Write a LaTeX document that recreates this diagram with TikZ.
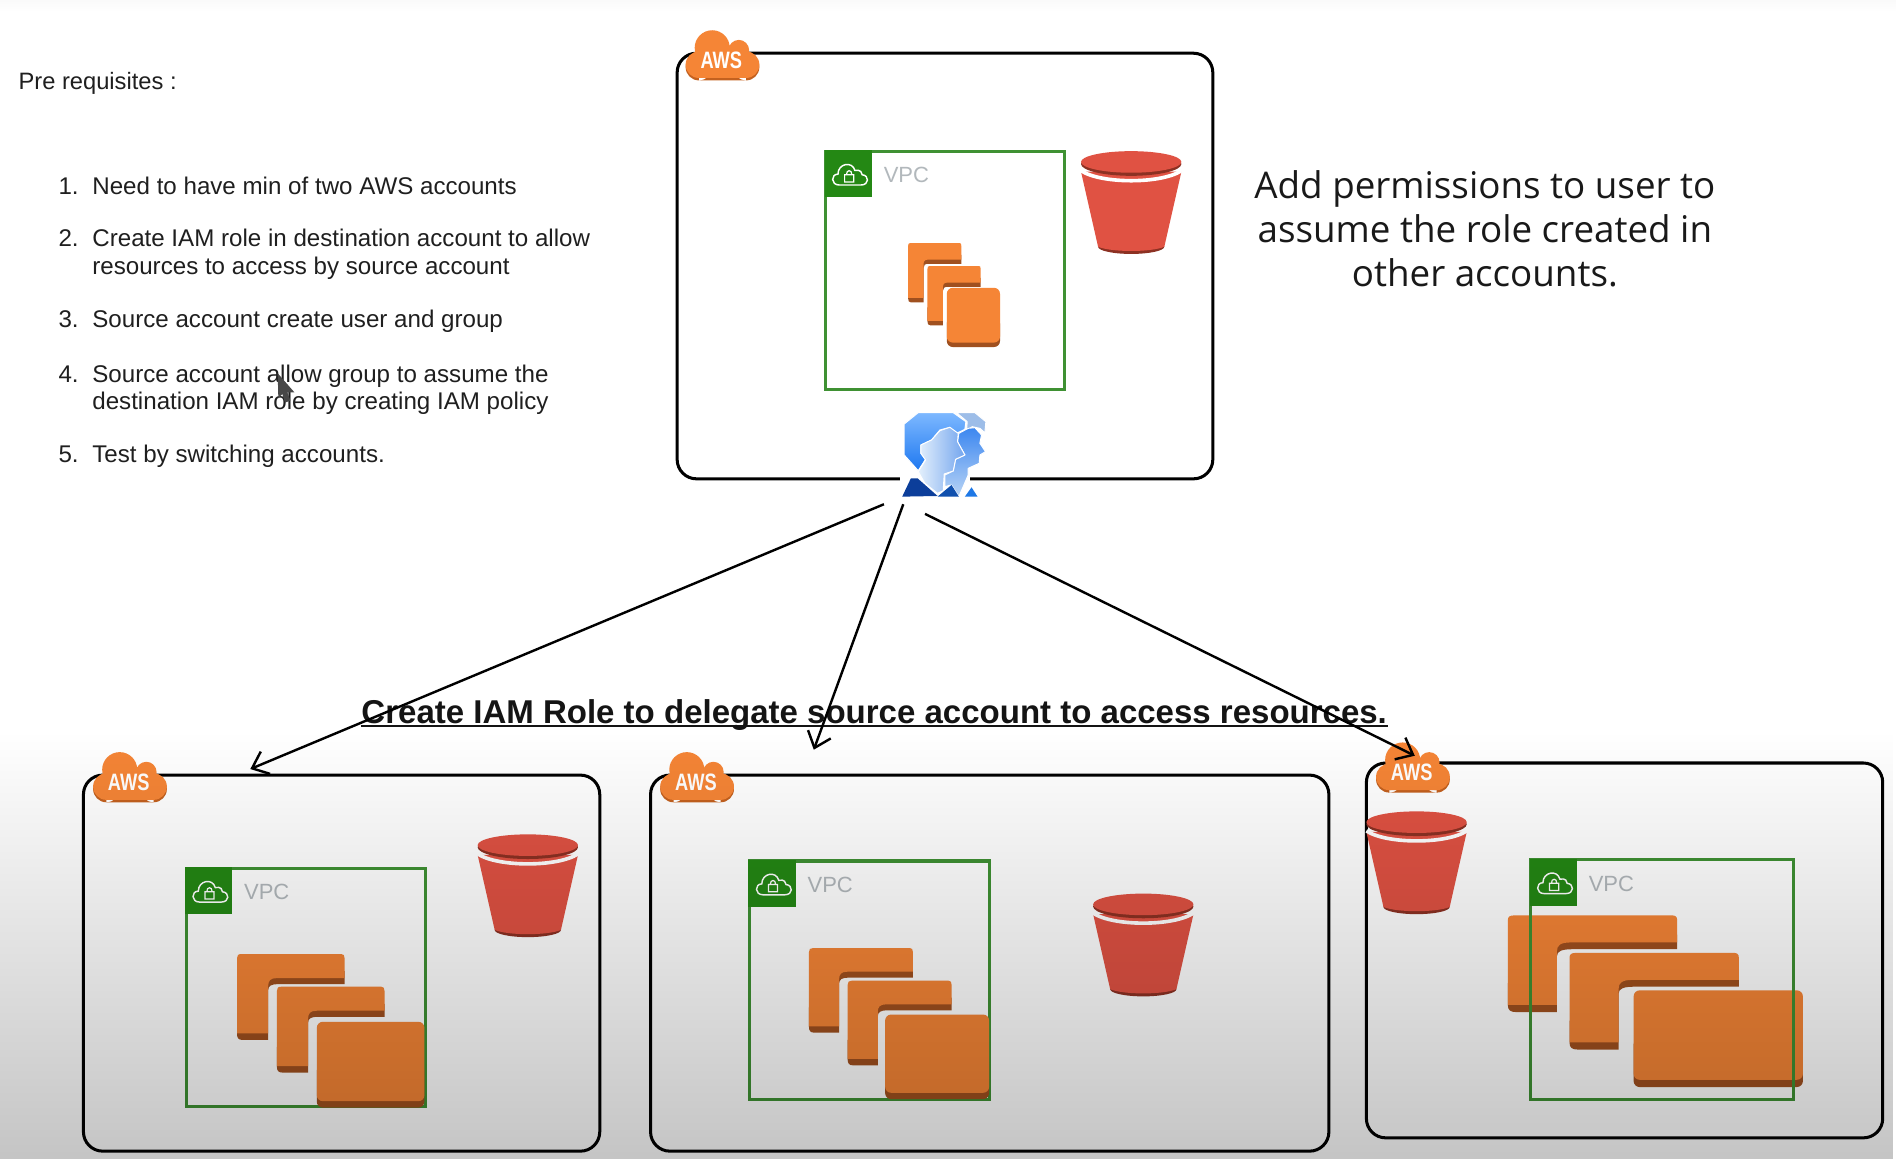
\documentclass[tikz,border=0pt]{standalone}
\usepackage{fontspec}
\setmainfont{Liberation Sans}
\newfontfamily\opens{Open Sans}
\usetikzlibrary{arrows.meta,fadings,calc}
\definecolor{ecorange}{HTML}{F58536}
\definecolor{ecdark}{HTML}{A0501F}
\definecolor{bkred}{HTML}{E05243}
\definecolor{bkdark}{HTML}{8C3123}
\definecolor{vpcgreen}{HTML}{248814}
\definecolor{vpcline}{HTML}{3F9133}
\definecolor{vpctext}{HTML}{B2B8BC}
\definecolor{awsdark}{HTML}{C4611F}
\definecolor{iamA}{RGB}{125,184,255}
\definecolor{iamB}{RGB}{30,120,240}
\definecolor{iamC}{RGB}{157,189,232}
\definecolor{iamD}{RGB}{60,135,240}
\definecolor{iamE}{RGB}{185,212,245}
\definecolor{iamF}{RGB}{228,240,252}
\definecolor{iamG}{RGB}{115,165,238}
\definecolor{iamH}{RGB}{12,62,154}
\definecolor{iamI}{RGB}{16,80,174}
\definecolor{iamJ}{RGB}{30,120,230}
\tikzfading[name=fadelow, top color=transparent!100, bottom color=transparent!77]
\tikzset{
  acct/.style={draw=black, line width=1.25pt, rounded corners=8pt, inner sep=0pt, fill=none},
  listtext/.style={anchor=base west, inner sep=0pt, font=\fontsize{9.98}{12}\selectfont, text=black!88},
  vpclabel/.style={anchor=west, inner sep=0pt, font=\fontsize{9.1}{11}\selectfont, text=vpctext},
  awslabel/.style={inner sep=0pt, text=white, font=\fontsize{9.8}{11}\selectfont\bfseries, xscale=.77},
  link/.style={draw=black, line width=1pt, -{Straight Barb[length=6pt,width=10pt,line width=1pt]}},
}
% account frame
\newcommand{\acctbox}[5]{\node[acct, minimum width={(#4-#2)*0.5pt}, minimum height={(#5-#3)*0.5pt}] (#1) at ({(#2+#4)/2},{(#3+#5)/2}) {};}
% AWS cloud: name, left, top
\newcommand{\awscloud}[3]{%
 \begin{scope}[shift={(#2,#3)}]
  \fill[awsdark] (11,30.5) circle (11) (50,30.5) circle (11) (11,25) rectangle (50,41.5);
  \fill[ecorange] (22,14.5) circle (14.5) (44,16.5) circle (8.5) (11,28.5) circle (11) (50,28.5) circle (11);
  \fill[ecorange] (11,18) rectangle (50,39.5) (22,14) rectangle (44,30);
  \node[awslabel] (#1) at (29.5,25) {AWS};
 \end{scope}}
% one L card
\newcommand{\lcard}[4]{%
 \begin{scope}[shift={(#1,#2)},x=#3*0.5pt,y=-#4*0.5pt]
  \fill[ecdark] (1,.35) -- (.38,.35) .. controls (.32,.35) and (.29,.37) .. (.29,.42) -- (.29,1) -- (.05,1) .. controls (.015,1) and (0,.98) .. (0,.93) -- (0,.7) -- (.2,.7) -- (.2,.2) -- (1,.2) -- cycle;
  \fill[ecorange] (1,.28) -- (.37,.28) .. controls (.31,.28) and (.29,.31) .. (.29,.37) -- (.29,.925) -- (0,.925) -- (0,.05) .. controls (0,.015) and (.01,0) .. (.04,0) -- (.97,0) .. controls (.99,0) and (1,.015) .. (1,.05) -- cycle;
 \end{scope}}
% full card
\newcommand{\fcard}[4]{%
 \begin{scope}[shift={(#1,#2)},x=#3*0.5pt,y=-#4*0.5pt]
  \fill[ecdark,rounded corners=2.5pt] (0,.5) rectangle (1,1);
  \fill[ecorange,rounded corners=2.5pt] (0,0) rectangle (1,.925);
 \end{scope}}
\newcommand{\ecstack}[8]{\lcard{#1}{#2}{#7}{#8}\lcard{#3}{#4}{#7}{#8}\fcard{#5}{#6}{#7}{#8}}
% bucket: left, top
\newcommand{\bucket}[2]{%
 \begin{scope}[shift={(#1,#2)},x=41.5pt,y=-42.5pt]
  \fill[bkdark] (.5,.93) ellipse [x radius=.33,y radius=.07];
  \fill[bkred] (0,.2) -- (.17,.93) .. controls (.3,.985) and (.7,.985) .. (.83,.93) -- (1,.2) -- cycle;
  \draw[white,line width=1.5pt] (0,.19) .. controls (.2,.32) and (.8,.32) .. (1,.19);
  \fill[bkdark] (.5,.125) ellipse [x radius=.5,y radius=.115];
  \fill[bkred] (.5,.105) ellipse [x radius=.5,y radius=.105];
 \end{scope}}
% VPC frame: name, left, top, right, bottom
\newcommand{\vpcframe}[5]{%
 \draw[vpcline,line width=1.3pt] (#2,#3) rectangle (#4,#5);
 \begin{scope}[shift={(#2,#3)}]
  \fill[vpcgreen] (-1,-1) rectangle (38,38);
  \draw[white,line width=.6pt] (11,28) .. controls (4,28) and (4,19) .. (10,19) .. controls (10,10) and (22,8) .. (24,16) .. controls (29,15) and (30,18) .. (30,19.5) .. controls (36,20) and (36,28) .. (29,28) -- cycle;
  \draw[white,line width=.5pt] (15.5,19.5) rectangle (23,25.5) (17,19.5) .. controls (17,15) and (21.5,15) .. (21.5,19.5);
  \node[vpclabel] (#1) at (47.5,20) {VPC};
 \end{scope}}
\begin{document}
\begin{tikzpicture}[x=0.5pt,y=-0.5pt]
\useasboundingbox (0,0) rectangle (1568,958.5);
\fill[white] (0,0) rectangle (1568,958.5);
\shade[top color=black!2, bottom color=white] (0,0) rectangle (1568,10);

% left text
\node[listtext,font=\fontsize{9.8}{12}\selectfont] (pre) at (15,74) {Pre requisites :};
\node[listtext] (n1) at (48,161) {1.};
\node[listtext] (t1) at (76,161) {Need to have min of two AWS accounts};
\node[listtext] (n2) at (48,204) {2.};
\node[listtext] (t2a) at (76,204) {Create IAM role in destination account to allow};
\node[listtext] (t2b) at (76,227) {resources to access by source account};
\node[listtext] (n3) at (48,271) {3.};
\node[listtext] (t3) at (76,271) {Source account create user and group};
\node[listtext] (n4) at (48,316) {4.};
\node[listtext] (t4a) at (76,316) {Source account allow group to assume the};
\node[listtext] (t4b) at (76,339) {destination IAM role by creating IAM policy};
\node[listtext] (n5) at (48,382.5) {5.};
\node[listtext] (t5) at (76,382.5) {Test by switching accounts.};
% mouse cursor
\begin{scope}[shift={(198.5,289.4)},x=0.1378pt,y=-0.1378pt]
 \fill[black!72] (113,70) -- (163,127) -- (142,127) -- (151,152) -- (135,158) -- (127,132) -- (115,145) -- cycle;
\end{scope}

% right text
\node[inner sep=0pt, align=center, font=\opens\fontsize{15.2}{18.2}\selectfont, text=black!90] (perm) at (1228,189) {Add permissions to user to\\assume the role created in\\other accounts.};

% top account
\acctbox{top}{560}{44}{1003}{396}
\awscloud{awstop}{567}{25}
\ecstack{751}{201}{767}{220}{783}{238}{44}{49}
\vpcframe{vpctop}{683}{125}{880}{322}
\bucket{894}{125}

% IAM icon
\node[inner sep=0pt, minimum width=34.5pt, minimum height=35pt] (iam) at (781.5,376) {};
\begin{scope}[shift={(731.8,330.8)},x=0.1378pt,y=-0.1378pt,line join=round]
 \fill[white] (45,230) rectangle (255,296);
 \shade[top color=iamA, bottom color=iamB, draw=white, line width=.4pt] (58,72) -- (100,38) -- (205,38) -- (243,65) -- (240,88) -- (215,100) -- (195,82) -- (165,90) -- (140,120) -- (108,135) -- (108,160) -- (122,178) -- (100,212) -- (58,165) -- cycle;
 \path[fill=iamC, draw=white, line width=.4pt] (215,38) -- (270,38) -- (303,65) -- (300,98) -- (285,85) -- (262,80) -- (245,92) -- (247,65) -- cycle;
 \shade[top color=iamD, bottom color=iamE, draw=white, line width=.4pt] (222,100) -- (250,85) -- (270,83) -- (290,105) -- (285,130) -- (302,155) -- (285,165) -- (283,190) -- (250,205) -- (250,225) -- (222,290) -- (200,255) -- (180,260) -- (180,225) -- (205,213) -- (212,178) -- (240,165) -- (218,125) -- cycle;
 \shade[left color=iamF, right color=iamG, draw=white, line width=.4pt] (108,135) -- (140,120) -- (165,92) -- (195,82) -- (220,100) -- (218,125) -- (240,165) -- (212,178) -- (205,213) -- (178,222) -- (175,272) -- (158,280) -- (120,250) -- (100,215) -- (122,180) -- (108,160) -- cycle;
 \fill[iamH] (52,290) -- (78,235) -- (98,235) -- (158,288) -- cycle;
 \fill[iamI] (158,290) -- (200,255) -- (222,290) -- cycle;
 \fill[iamJ] (240,290) -- (260,262) -- (278,290) -- cycle;
\end{scope}

% lower accounts
\acctbox{left}{69}{641}{496}{952}
\awscloud{awsleft}{77}{622}
\vpcframe{vpcleft}{154}{718}{352}{915}
\ecstack{196}{789}{229}{816}{262}{845}{89}{71}
\bucket{395}{690}

\acctbox{mid}{538}{641}{1099}{952}
\awscloud{awsmid}{546}{622}
\vpcframe{vpcmid}{620}{712}{818}{909}
\ecstack{669}{784}{701}{811}{732}{839}{86}{70}
\bucket{904}{739}

\acctbox{right}{1130}{631}{1557}{941}
\awscloud{awsright}{1138}{614}
\ecstack{1247}{757}{1298}{788}{1351}{819}{140}{80}
\vpcframe{vpcright}{1266}{711}{1483}{909}
\bucket{1130}{671}

% title
\node[inner sep=0pt, anchor=base, font=\fontsize{13.65}{15}\selectfont\bfseries, text=black!92] (title) at (723,598.5) {Create IAM Role to delegate source account to access resources.};
\draw[black!92, line width=.75pt] ($(title.base west)+(0,1.8)$) -- ($(title.base east)+(0,1.8)$);

% connectors
\coordinate (fromA) at (731,417);
\coordinate (fromB) at (747,417);
\coordinate (fromC) at (765,425);
\coordinate (toA) at (207,636);
\coordinate (toB) at (673,620);
\coordinate (toC) at (1170,625);
\draw[link] (fromA) -- (toA);
\draw[link] (fromB) -- (toB);
\draw[link] (fromC) -- (toC);

% video fade towards the bottom
\fill[black, path fading=fadelow] (0,605) rectangle (1568,958.5);
\end{tikzpicture}
\end{document}
